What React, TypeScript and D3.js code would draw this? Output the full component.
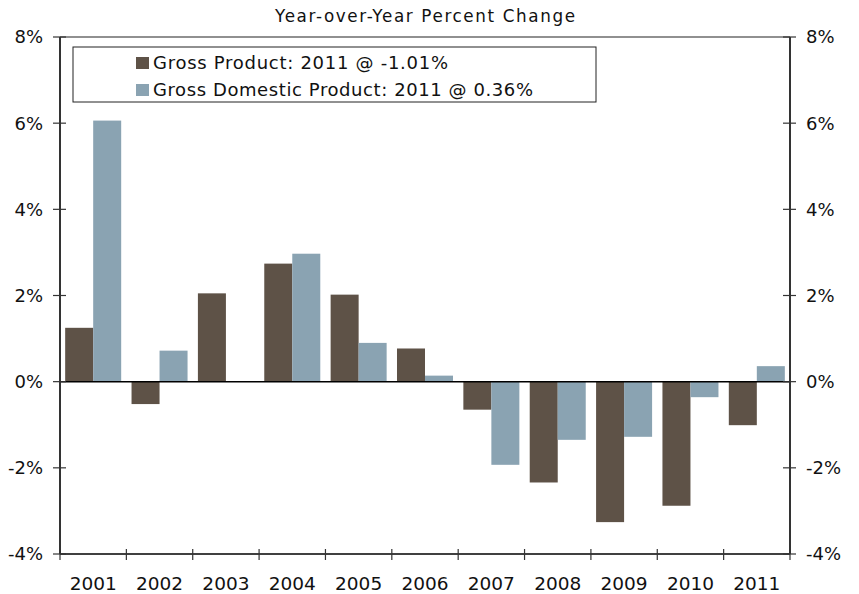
import React from "react";
import * as d3 from "d3";

const years = ["2001","2002","2003","2004","2005","2006","2007","2008","2009","2010","2011"];
const grossProduct = [1.25, -0.52, 2.05, 2.74, 2.02, 0.77, -0.65, -2.34, -3.26, -2.88, -1.01];
const gdp = [6.06, 0.72, 0, 2.97, 0.9, 0.14, -1.93, -1.35, -1.28, -0.36, 0.36];
const yTicks = [-4, -2, 0, 2, 4, 6, 8];
const seriesNames = ["Gross Product: 2011 @ -1.01%", "Gross Domestic Product: 2011 @ 0.36%"];
const colors = ["#5E5247", "#8AA3B2"];
const title = "Year-over-Year Percent Change";

export default function App() {
  const W = 859, H = 594;
  const left = 60, right = 790, top = 37, bottom = 554;
  const x = d3.scaleBand<string>().domain(years).range([left, right]).paddingInner(0).paddingOuter(0);
  const y = d3.scaleLinear().domain([-4, 8]).range([bottom, top]);
  const bw = x.bandwidth();
  const pad = bw * 0.078;
  const barW = (bw - 2 * pad) / 2;
  const font = "'DejaVu Sans', Verdana, sans-serif";
  const series = [grossProduct, gdp];
  const legendLens = [295, 380];
  return (
    <svg width={W} height={H} style={{ position: "absolute", left: 0, top: 0, background: "#fff" }} fontFamily={font}>
      <text x={275} y={22} fontSize={16.8} textLength={300} lengthAdjust="spacing" fill="#111">{title}</text>
      {series.map((s, si) =>
        s.map((v, i) => {
          const x0 = (x(years[i]) as number) + pad + si * barW;
          const y0 = y(Math.max(0, v));
          const h = Math.abs(y(v) - y(0));
          return <rect key={si + "-" + i} x={x0} y={y0} width={barW} height={h} fill={colors[si]} />;
        })
      )}
      {/* top border */}
      <line x1={left} x2={right} y1={top} y2={top} stroke="#222" strokeWidth={1.2} />
      {/* zero line */}
      <line x1={left} x2={right} y1={y(0)} y2={y(0)} stroke="#000" strokeWidth={1.5} />
      {/* bottom axis */}
      <line x1={left} x2={right} y1={bottom} y2={bottom} stroke="#000" strokeWidth={1.5} />
      {/* left & right axes */}
      <line x1={left} x2={left} y1={top} y2={bottom} stroke="#333" strokeWidth={2} />
      <line x1={right} x2={right} y1={top} y2={bottom} stroke="#333" strokeWidth={2} />
      {yTicks.map(t => (
        <g key={"yt" + t}>
          <line x1={left - 7} x2={left + 6} y1={y(t)} y2={y(t)} stroke="#333" strokeWidth={1.2} />
          <line x1={right - 7} x2={right + 6} y1={y(t)} y2={y(t)} stroke="#333" strokeWidth={1.2} />
          <text x={43} y={y(t)} dy="0.36em" textAnchor="end" fontSize={18} fill="#111">{t}%</text>
          <text x={806} y={y(t)} dy="0.36em" textAnchor="start" fontSize={18} fill="#111">{t}%</text>
        </g>
      ))}
      {years.map((yr, i) => (
        <line key={"xt" + i} x1={x(yr) as number} x2={x(yr) as number} y1={bottom - 5} y2={bottom + 6} stroke="#333" strokeWidth={1.2} />
      ))}
      <line x1={right} x2={right} y1={bottom - 5} y2={bottom + 6} stroke="#333" strokeWidth={1.2} />
      {years.map(yr => (
        <text key={"xl" + yr} x={(x(yr) as number) + bw / 2} y={590} textAnchor="middle" fontSize={18.5} fill="#111">{yr}</text>
      ))}
      {/* legend */}
      <rect x={73} y={47} width={523} height={55} fill="#fff" stroke="#222" strokeWidth={1} />
      {seriesNames.map((n, i) => (
        <g key={"lg" + i}>
          <rect x={136} y={57 + i * 27} width={13} height={12} fill={colors[i]} />
          <text x={153} y={63 + i * 27} dy="0.36em" fontSize={18} textLength={legendLens[i]} lengthAdjust="spacing" fill="#111">{n}</text>
        </g>
      ))}
    </svg>
  );
}
